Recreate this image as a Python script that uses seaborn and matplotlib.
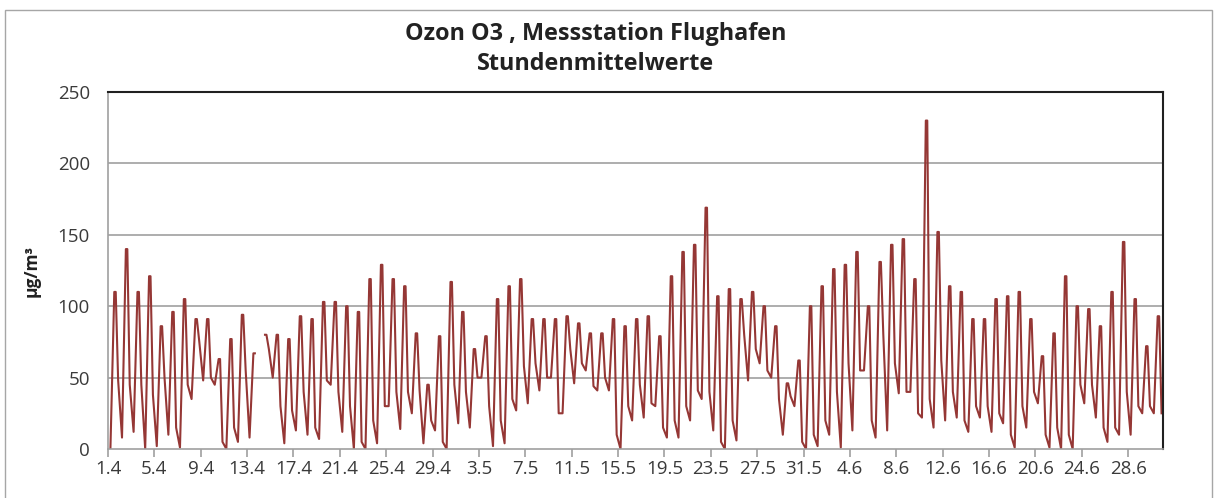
import numpy as np
import pandas as pd
import matplotlib
matplotlib.use("Agg")
import matplotlib.pyplot as plt
import seaborn as sns
from matplotlib.patches import Rectangle

# Ozon-Stundenwerte, gelesen aus dem Bild: je Tag Nachtminimum, Tagesmaximum, Abendwert
tief = [0, 8, 12, 0, 2, 10, 1, 35, 48, 45, 0, 5, 8, np.nan, 50, 4, 13, 10, 7, 45,
        12, 0, 0, 4, 30, 14, 25, 4, 13, 0, 18, 15, 50, 2, 4, 27, 32, 41, 50, 25,
        46, 55, 41, 41, 0, 20, 22, 30, 8, 8, 20, 35, 13, 0, 6, 48, 60, 50, 10, 30,
        0, 2, 10, 1, 13, 55, 8, 13, 39, 40, 22, 15, 20, 22, 12, 22, 12, 18, 1, 15,
        32, 1, 0, 0, 32, 22, 5, 10, 10, 25, 25]
hoch = [110, 140, 110, 121, 86, 96, 105, 91, 91, 63, 77, 94, 67, 80, 80, 77, 93, 91, 103, 103,
        100, 96, 119, 129, 119, 114, 81, 45, 79, 117, 96, 70, 79, 105, 114, 119, 91, 91, 91, 93,
        88, 81, 81, 91, 86, 91, 93, 79, 121, 138, 143, 169, 107, 112, 105, 110, 100, 86, 46, 62,
        100, 114, 126, 129, 138, 100, 131, 143, 147, 119, 230, 152, 114, 110, 91, 91, 105, 107, 110, 91,
        65, 81, 121, 100, 98, 86, 110, 145, 105, 72, 93]
abend = [48, 45, 45, 38, 50, 15, 45, 75, 50, 5, 15, 55, np.nan, 70, 30, 27, 40, 15, 48, 40,
         30, 5, 20, 30, 40, 40, 41, 20, 5, 45, 40, 50, 30, 20, 35, 58, 60, 50, 25, 70,
         60, 44, 50, 10, 30, 45, 32, 15, 20, 30, 41, 40, 5, 20, 80, 70, 55, 35, 37, 5,
         10, 20, 40, 60, 55, 20, 80, 60, 40, 25, 35, 62, 40, 20, 30, 30, 25, 10, 30, 40,
         10, 15, 10, 45, 45, 15, 15, 40, 30, 30, 25]
# Uhrzeiten: Minimum morgens, Maximum als Plateau am Nachmittag, Abendwert
std_tief, std_hoch, std_abend = 5, (13, 16), 21

tick_labels = ["1.4", "5.4", "9.4", "13.4", "17.4", "21.4", "25.4", "29.4", "3.5", "7.5",
               "11.5", "15.5", "19.5", "23.5", "27.5", "31.5", "4.6", "8.6", "12.6", "16.6",
               "20.6", "24.6", "28.6"]

n_tage = len(hoch)
x, y = [], []
for d in range(n_tage):
    x.append(d * 24 + std_tief)
    y.append(tief[d])
    for h in std_hoch:
        x.append(d * 24 + h)
        y.append(hoch[d])
    x.append(d * 24 + std_abend)
    y.append(abend[d])
df = pd.DataFrame({"stunde": x, "ozon": y})
# Luecken behalten: zusammenhaengende Abschnitte als eigene Einheiten
df["abschnitt"] = df["ozon"].isna().cumsum()
df = df.dropna()

rot = "#953735"
fig = plt.figure(figsize=(12.17, 4.98), dpi=100)
fig.patches.append(Rectangle((5 / 1217, -0.1), 1207 / 1217, 1.08, transform=fig.transFigure,
                             fill=False, edgecolor="#a6a6a6", linewidth=1.0))
ax = fig.add_axes([108 / 1217, 49 / 498, 1055 / 1217, 357 / 498])

sns.lineplot(data=df, x="stunde", y="ozon", units="abschnitt", estimator=None,
             color=rot, linewidth=1.5, ax=ax)

ax.set_xlim(0, n_tage * 24)
ax.set_ylim(0, 250)
ax.set_yticks([0, 50, 100, 150, 200, 250])
ax.set_xticks([i * 4 * 24 for i in range(len(tick_labels))])
ax.set_xticklabels(tick_labels)
for g in [50, 100, 150, 200]:
    ax.axhline(g, color="#a0a0a0", linewidth=1.2, zorder=0)

fs = "Open Sans"
for lab in ax.get_xticklabels() + ax.get_yticklabels():
    lab.set_fontfamily(fs)
    lab.set_fontsize(13.5)
    lab.set_color("#3a3a3a")
ax.tick_params(axis="x", length=6, color="#a0a0a0", width=1.2, pad=2)
ax.tick_params(axis="y", length=0, pad=13)

for s in ["left", "bottom"]:
    ax.spines[s].set_color("#a0a0a0")
    ax.spines[s].set_linewidth(1.2)
for s in ["top", "right"]:
    ax.spines[s].set_color("#202020")
    ax.spines[s].set_linewidth(1.5)

ax.set_xlabel("")
ax.set_ylabel("µg/m³", fontfamily=fs, fontweight="bold", fontsize=12.5, color="#222222", labelpad=12)
fig.text(596 / 1217, 1 - 49 / 498, "Ozon O3 , Messstation Flughafen\nStundenmittelwerte",
         ha="center", va="center", fontfamily=fs, fontweight="bold", fontsize=16.8,
         color="#222222", linespacing=1.35)

fig.savefig("out.png", dpi=100)
